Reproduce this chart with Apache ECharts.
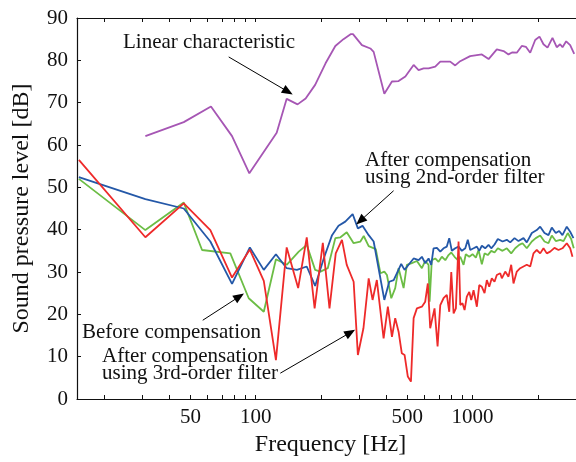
<!DOCTYPE html>
<html>
<head>
<meta charset="utf-8">
<script src="https://cdn.jsdelivr.net/npm/echarts@6/dist/echarts.min.js"></script>
<style>
  html, body { margin: 0; padding: 0; background: #fff; }
  #chart { width: 576px; height: 462px; }
</style>
</head>
<body>
<div id="chart"></div>
<script>
// Values: [frequency Hz, level dB]
var linearChar = [[31,62.1],[46.6,65.4],[62.2,69.1],[77.8,62.1],[93.5,53.3],[125,62.9],[139,70.9],[156,69.6],[170,71.0],[188,74.2],[210,79.3],[233,83.4],[254,85.0],[275,86.2],[281,86.2],[309,83.6],[338,82.8],[350,82.0],[392,72.1],[425,75.0],[456,75.1],[490,76.2],[535,78.9],[564,77.7],[595,78.1],[627,78.1],[673,78.5],[710,79.7],[789,79.7],[832,78.8],[877,79.8],[975,81.0],[1104,81.4],[1186,80.3],[1294,82.6],[1390,82.2],[1465,81.4],[1528,81.9],[1600,81.8],[1687,83.4],[1762,83.2],[1845,81.8],[1945,84.8],[2036,85.6],[2124,83.8],[2217,83.0],[2337,85.3],[2445,83.1],[2535,83.8],[2600,83.1],[2703,84.5],[2820,83.6],[2944,81.5]];

var beforeComp = [[15.3,52.0],[31,39.9],[46.6,46.4],[56.6,35.2],[76.4,34.4],[92.9,23.8],[109,20.6],[124,33.0],[139,31.7],[158,34.8],[172,36.4],[188,30.5],[199,30.1],[215,30.9],[233,38.0],[246,38.2],[263,39.4],[283,36.8],[304,37.2],[315,38.5],[332,36.1],[358,35.4],[376,29.7],[392,30.1],[403,29.3],[422,23.8],[440,26.2],[456,30.9],[481,26.2],[498,31.7],[525,32.1],[554,32.6],[584,30.9],[605,32.6],[627,31.7],[634,23.0],[649,32.8],[673,33.2],[697,32.4],[722,33.6],[749,32.8],[775,34.0],[798,34.6],[826,33.6],[856,32.8],[878,33.6],[909,31.7],[931,34.2],[966,33.6],[1000,34.2],[1036,33.4],[1066,35.2],[1104,31.8],[1136,34.4],[1176,34.0],[1220,35.0],[1263,34.6],[1308,35.6],[1375,35.0],[1439,35.6],[1508,34.4],[1573,35.6],[1641,36.4],[1700,36.8],[1779,35.6],[1877,37.2],[1957,38.0],[2051,38.6],[2147,37.2],[2240,36.8],[2320,38.6],[2420,37.3],[2536,37.6],[2627,37.3],[2749,39.2],[2850,37.8],[2930,35.6]];

var secondOrder = [[15.3,52.4],[31,47.2],[46.6,45.0],[61.8,37.2],[77.8,27.2],[94,35.8],[109,30.5],[124,34.2],[139,30.9],[155,30.5],[172,31.3],[188,26.7],[206,33.2],[225,38.7],[241,40.9],[259,41.9],[280,43.7],[296,40.3],[311,40.9],[332,38.7],[350,37.2],[392,23.4],[413,27.7],[433,28.1],[469,31.9],[486,30.5],[507,31.7],[535,33.2],[564,32.8],[584,33.6],[605,32.1],[627,33.2],[645,31.7],[661,35.6],[685,35.7],[710,34.8],[735,35.6],[761,36.0],[781,38.0],[803,35.0],[832,35.6],[862,36.0],[893,35.0],[926,35.6],[951,37.6],[976,35.2],[1011,35.6],[1047,36.0],[1074,35.0],[1104,36.2],[1144,35.6],[1185,36.4],[1220,35.6],[1263,36.5],[1308,37.8],[1375,37.2],[1439,37.6],[1492,37.0],[1562,38.0],[1629,37.3],[1718,38.0],[1779,37.0],[1877,39.2],[1978,39.9],[2051,40.7],[2147,39.2],[2240,38.7],[2320,40.5],[2420,39.2],[2509,39.7],[2598,38.7],[2720,40.7],[2820,39.5],[2920,38.0]];

var thirdOrder = [[15.3,56.5],[31,38.2],[46.6,46.2],[61.8,39.9],[77.8,28.7],[94,35.3],[109,27.9],[124,9.2],[139,35.8],[157,26.2],[172,38.2],[187,21.4],[204,36.9],[219,21.4],[234,34.4],[250,37.6],[263,31.7],[283,27.7],[296,10.4],[314,16.7],[326,24.6],[332,28.5],[346,23.4],[362,28.1],[389,14.3],[407,21.8],[425,14.7],[440,19.1],[456,15.9],[472,10.8],[486,10.4],[503,5.3],[520,4.1],[535,19.1],[554,21.4],[584,21.8],[605,23.0],[622,27.3],[638,16.7],[668,21.4],[690,12.4],[710,22.2],[735,23.8],[761,24.6],[781,20.6],[798,30.0],[818,20.2],[838,21.4],[862,37.2],[878,22.2],[899,22.6],[919,21.0],[941,24.2],[966,25.3],[986,23.4],[1011,25.7],[1047,21.8],[1074,26.9],[1104,26.5],[1136,25.0],[1164,28.1],[1194,26.5],[1227,28.5],[1263,27.7],[1294,29.3],[1342,29.7],[1365,28.5],[1415,30.1],[1465,28.9],[1508,31.7],[1545,27.3],[1600,30.1],[1659,30.9],[1718,31.3],[1779,31.7],[1845,31.3],[1910,34.4],[1978,35.2],[2051,34.4],[2124,35.6],[2200,34.4],[2281,34.8],[2387,35.7],[2491,35.2],[2598,35.6],[2720,36.8],[2820,35.6],[2890,33.6]];

var xTickValues = [20,30,40,50,60,70,80,90,100,200,300,400,500,600,700,800,900,1000,2000];
var xLabelValues = [50,100,500,1000];

// arrows: [from, to] in data coordinates
var arrows = [
    [[75.1,80.8],[140.9,72.6]],
    [[432.6,49.2],[303.7,42.1]],
    [[57.0,18.6],[84.1,24.2]],
    [[129.9,6.1],[273.2,15.7]]
];

var serif = '"Liberation Serif", "DejaVu Serif", serif';
var chart = echarts.init(document.getElementById('chart'));

function lineSeries(name, data, color) {
    return {
        name: name,
        type: 'line',
        data: data,
        showSymbol: false,
        silent: true,
        lineStyle: { color: color, width: 1.8 },
        itemStyle: { color: color }
    };
}

var series = [
    lineSeries('Linear characteristic', linearChar, '#a656b4'),
    lineSeries('Before compensation', beforeComp, '#6cbd45'),
    lineSeries('2nd-order', secondOrder, '#2458a8'),
    lineSeries('3rd-order', thirdOrder, '#ee2a2a')
];
series[0].markLine = {
    silent: true,
    symbol: ['none', 'triangle'],
    symbolSize: [9, 11],
    label: { show: false },
    lineStyle: { color: '#000', width: 1, type: 'solid' },
    data: arrows.map(function (a) {
        return [{ coord: a[0] }, { coord: a[1] }];
    })
};

function textEl(str, left, top) {
    return {
        type: 'text', left: left, top: top, silent: true,
        style: { text: str, font: '21px ' + serif, fill: '#111' }
    };
}

chart.setOption({
    animation: false,
    grid: { left: 77, right: 0, top: 18, bottom: 63 },
    xAxis: [{
        type: 'log',
        min: 15, max: 3000,
        name: 'Frequency [Hz]',
        nameLocation: 'middle',
        nameGap: 30,
        nameTextStyle: { fontFamily: serif, fontSize: 24, color: '#111', padding: [0, 0, 0, 8] },
        axisLine: { lineStyle: { color: '#111', width: 1.2 } },
        axisTick: { show: true, inside: true, length: 4, customValues: xTickValues, lineStyle: { color: '#111' } },
        axisLabel: {
            customValues: xLabelValues, fontFamily: serif, fontSize: 21, color: '#111', margin: 8,
            formatter: function (v) { return String(v); }
        },
        splitLine: { show: false },
        minorTick: { show: false }
    }, {
        type: 'log',
        position: 'top',
        min: 15, max: 3000,
        axisLine: { show: true, lineStyle: { color: '#111', width: 1.2 } },
        axisTick: { show: true, inside: true, length: 4, customValues: xTickValues, lineStyle: { color: '#111' } },
        axisLabel: { show: false },
        splitLine: { show: false }
    }],
    yAxis: {
        type: 'value',
        min: 0, max: 90, interval: 10,
        name: 'Sound pressure level [dB]',
        nameLocation: 'middle',
        nameGap: 43,
        nameTextStyle: { fontFamily: serif, fontSize: 24, color: '#111' },
        axisLine: { show: true, lineStyle: { color: '#111', width: 1.2 } },
        axisTick: { show: true, inside: true, length: 4, lineStyle: { color: '#111' } },
        axisLabel: { fontFamily: serif, fontSize: 21, color: '#111', margin: 9 },
        splitLine: { show: false }
    },
    series: series,
    graphic: [
        textEl('Linear characteristic', 123, 32),
        textEl('After compensation', 365, 150),
        textEl('using 2nd-order filter', 365, 167),
        textEl('Before compensation', 82, 322),
        textEl('After compensation', 102, 346),
        textEl('using 3rd-order filter', 102, 363)
    ]
});
</script>
</body>
</html>
